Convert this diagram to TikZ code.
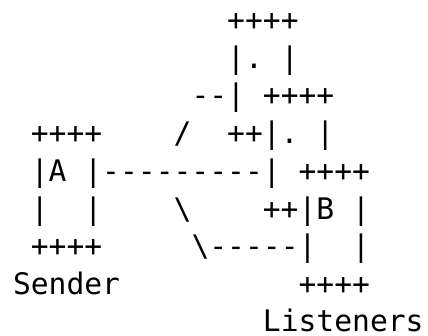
\documentclass[tikz,border=0pt]{standalone}
\usepackage{fontspec}
\setmonofont{DejaVu Sans Mono}
\tikzset{
  row/.style={anchor=base west,inner sep=0pt,outer sep=0pt,
    font=\ttfamily\fontsize{29.65}{37.7}\selectfont},
}

\begin{document}
\begin{tikzpicture}[x=1pt,y=1pt]
  \useasboundingbox (0,0) rectangle (428,-335);
  % ascii sketch, one node per text line
  \node[row] (row0) at (13,-30.5)  {~~~~~~~~~~~~++++};
  \node[row] (row1) at (13,-68.2)  {~~~~~~~~~~~~|.~|};
  \node[row] (row2) at (13,-105.9) {~~~~~~~~~~--|~++++};
  \node[row] (row3) at (13,-143.6) {~++++~~~~/~~++|.~|};
  \node[row] (row4) at (13,-181.3) {~|A~|---------|~++++};
  \node[row] (row5) at (13,-219.0) {~|~~|~~~~\textbackslash~~~~++|B~|};
  \node[row] (row6) at (13,-256.7) {~++++~~~~~\textbackslash-----|~~|};
  \node[row] (sender) at (13,-294.4) {Sender~~~~~~~~~~++++};
  \node[row] (listeners) at (13,-331.6) {~~~~~~~~~~~~~~Listeners};
\end{tikzpicture}
\end{document}
